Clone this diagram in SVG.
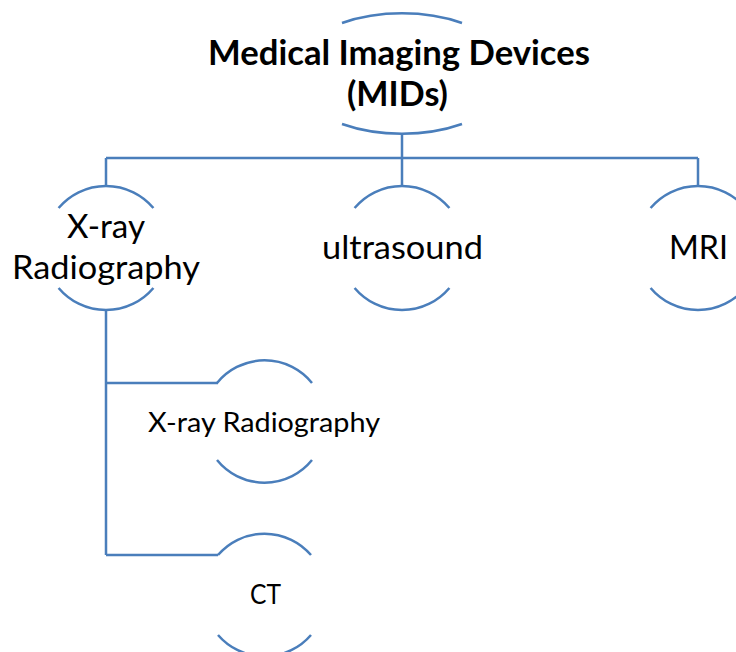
<svg xmlns="http://www.w3.org/2000/svg" width="736" height="652" viewBox="0 0 736 652">
<style>
.arc{fill:none;stroke:#4a7ebb;stroke-width:2.5}
.con{fill:none;stroke:#4a7ebb;stroke-width:2.5}
text{font-family:Lato,"Liberation Sans",sans-serif;fill:#000;text-anchor:middle}
.t0{font-size:34px;font-weight:bold}
.t1{font-size:32px}
.t2{font-size:27px}
</style>
<rect width="736" height="652" fill="#fff"/>
<g id="connectors">
<path class="con" d="M402,134V158M106,158H698M106,158V186M402,158V186M698,158V186"/>
<path class="con" d="M106,310V555M106,383H218M106,555H218"/>
</g>
<g id="node-mids">
<path class="arc" d="M342,23A110,60 0 0 1 462,23M342,124A110,60 0 0 0 462,124"/>
<text class="t0" x="399" y="65" textLength="382" lengthAdjust="spacingAndGlyphs">Medical Imaging Devices</text>
<text class="t0" x="397.5" y="106" textLength="101" lengthAdjust="spacingAndGlyphs">(MIDs)</text>
</g>
<g id="node-xray">
<path class="arc" d="M58.6,208A62,62 0 0 1 153.4,208M58.6,288A62,62 0 0 0 153.4,288"/>
<text class="t1" x="106" y="238" textLength="78" lengthAdjust="spacingAndGlyphs">X-ray</text>
<text class="t1" x="106" y="279" textLength="188" lengthAdjust="spacingAndGlyphs">Radiography</text>
</g>
<g id="node-ultrasound">
<path class="arc" d="M354.6,208A62,62 0 0 1 449.4,208M354.6,288A62,62 0 0 0 449.4,288"/>
<text class="t1" x="402.5" y="259" textLength="161" lengthAdjust="spacingAndGlyphs">ultrasound</text>
</g>
<g id="node-mri">
<path class="arc" d="M650.6,208A62,62 0 0 1 745.4,208M650.6,288A62,62 0 0 0 745.4,288"/>
<text class="t1" x="698.5" y="259" textLength="59" lengthAdjust="spacingAndGlyphs">MRI</text>
</g>
<g id="node-xray2">
<path class="arc" d="M217,383A61.1,61.1 0 0 1 312,383M217,460A61.1,61.1 0 0 0 312,460"/>
<text class="t2" x="264" y="432" textLength="232" lengthAdjust="spacingAndGlyphs">X-ray Radiography</text>
</g>
<g id="node-ct">
<path class="arc" d="M218,555A61.3,61.3 0 0 1 311,555M218,635A61.3,61.3 0 0 0 311,635"/>
<text class="t2" x="265.5" y="604" textLength="31" lengthAdjust="spacingAndGlyphs">CT</text>
</g>
</svg>
